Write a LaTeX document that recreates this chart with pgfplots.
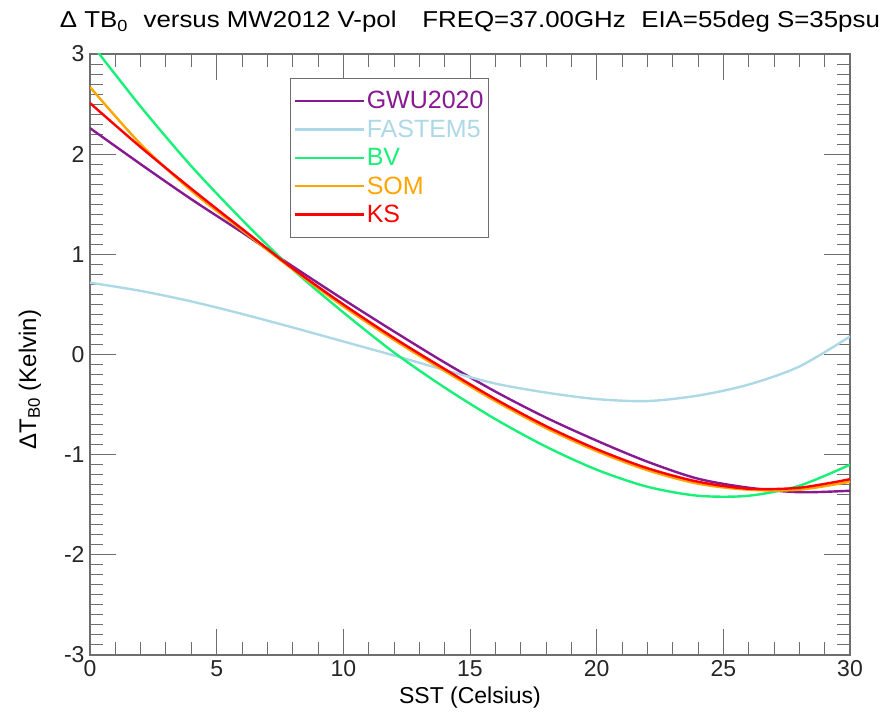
\documentclass[border=0pt]{standalone}
\usepackage{pgfplots}
\pgfplotsset{compat=1.18}
\usepackage{fontspec}
\setmainfont{Liberation Sans}
\definecolor{gwu}{RGB}{135,25,145}
\definecolor{fastem}{RGB}{173,216,230}
\definecolor{bv}{RGB}{25,240,120}
\definecolor{som}{RGB}{255,165,0}
\definecolor{ks}{RGB}{255,0,0}
\definecolor{axgray}{RGB}{110,110,110}
\newcommand{\fs}{\fontsize{23bp}{27bp}\selectfont}
\begin{document}
\begin{tikzpicture}
\useasboundingbox (-90bp,-59bp) rectangle (793bp,655bp);
\begin{axis}[
  scale only axis, width=760bp, height=601bp,
  xmin=0, xmax=30, ymin=-3, ymax=3,
  xtick={0,5,...,30}, xticklabels={0,5,10,15,20,25,30},
  ytick={-3,-2,...,3}, yticklabels={-3,-2,-1,0,1,2,3},
  minor x tick num=4, minor y tick num=9,
  major tick length=26bp, minor tick length=13bp,
  tick align=inside, tick pos=both,
  axis line style={axgray, line width=1.2bp},
  every tick/.style={axgray, line width=1bp},
  every tick label/.append style={font=\fs, text=black!85},
  xticklabel style={yshift=-2bp},
  yticklabel style={xshift=-2bp},
  xlabel={SST (Celsius)},
  xlabel style={font=\fs, at={(rel axis cs:0.5,-0.07)}, anchor=center},
  ylabel={\fontsize{24bp}{28bp}\selectfont ΔT\textsubscript{B0} (Kelvin)},
  ylabel style={font=\fs, at={(rel axis cs:-0.079,0.458)}, anchor=center},
  legend style={at={(rel axis cs:0.263,0.96)}, anchor=north west,
    draw=axgray, line width=1bp, fill=white, font=\fontsize{25bp}{29bp}\selectfont,
    inner xsep=3bp, inner ysep=11bp, row sep=5.5bp,
    nodes={inner sep=2bp}},
  legend cell align=left,
  legend image code/.code={\path (-2bp,0bp) -- (67bp,0bp);\draw[#1, line width=2.4bp] (0bp,0bp) -- (61bp,0bp);},
  every axis plot/.append style={line width=2.4bp, smooth},
]
\addplot[gwu] coordinates {(0,2.26)(2,1.90)(4,1.55)(6,1.22)(8,0.88)(10,0.55)(12,0.23)(14,-0.08)(16,-0.37)(18,-0.63)(20,-0.86)(22,-1.07)(24,-1.24)(26,-1.33)(28,-1.375)(30,-1.36)};
\addlegendentry{\textcolor{gwu}{GWU2020}}
\addplot[fastem] coordinates {(0,0.717)(2,0.635)(4,0.53)(6,0.405)(8,0.27)(10,0.13)(12,-0.01)(14,-0.155)(16,-0.29)(18,-0.38)(20,-0.445)(22,-0.465)(24,-0.41)(26,-0.30)(28,-0.12)(30,0.18)};
\addlegendentry{\textcolor{fastem}{FASTEM5}}
\addplot[bv] coordinates {(0,3.12)(2,2.475)(4,1.88)(6,1.345)(8,0.85)(10,0.42)(12,0.02)(14,-0.33)(16,-0.645)(18,-0.92)(20,-1.15)(22,-1.32)(24,-1.41)(26,-1.41)(28,-1.31)(30,-1.10)};
\addlegendentry{\textcolor{bv}{BV}}
\addplot[som] coordinates {(0,2.67)(2,2.10)(4,1.635)(6,1.24)(8,0.85)(10,0.48)(12,0.145)(14,-0.165)(16,-0.465)(18,-0.735)(20,-0.965)(22,-1.155)(24,-1.29)(26,-1.35)(28,-1.35)(30,-1.27)};
\addlegendentry{\textcolor{som}{SOM}}
\addplot[ks] coordinates {(0,2.51)(2,2.07)(4,1.655)(6,1.255)(8,0.86)(10,0.50)(12,0.165)(14,-0.145)(16,-0.445)(18,-0.715)(20,-0.945)(22,-1.135)(24,-1.27)(26,-1.34)(28,-1.33)(30,-1.245)};
\addlegendentry{\textcolor{ks}{KS}}
\end{axis}
\node[anchor=base, font=\fs, inner sep=0pt] at (380bp,627bp)
  {\resizebox{820bp}{\height}{Δ TB\textsubscript{0}\hspace{0.6em}versus MW2012 V-pol\hspace{1em}FREQ=37.00GHz\hspace{0.6em}EIA=55deg S=35psu}};
\end{tikzpicture}
\end{document}
